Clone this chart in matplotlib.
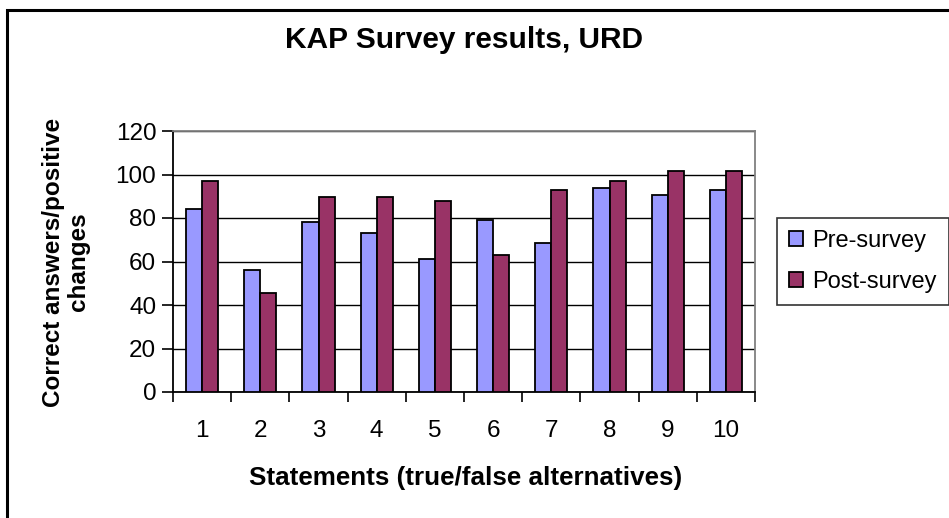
import matplotlib
matplotlib.use("Agg")
import matplotlib.pyplot as plt
import numpy as np
from matplotlib.patches import Rectangle

statements = ["1", "2", "3", "4", "5", "6", "7", "8", "9", "10"]
pre_survey = [84, 56, 78, 73, 61, 79, 68.5, 94, 90.5, 93]
post_survey = [97, 45.5, 89.5, 89.5, 88, 63, 93, 97, 101.5, 101.5]
y_ticks = [0, 20, 40, 60, 80, 100, 120]

plt.rcParams['font.family'] = ['Liberation Sans', 'DejaVu Sans']

fig = plt.figure(figsize=(9.49, 5.18), dpi=100)
fig.patch.set_facecolor('white')
ax = fig.add_axes([173/949, 1-392/518, (755-173)/949, (392-131)/518])

x = np.arange(len(statements))
w = 0.275
ax.bar(x - w/2, pre_survey, w, color='#9999FF', edgecolor='black', linewidth=1.3,
       label='Pre-survey', zorder=3)
ax.bar(x + w/2, post_survey, w, color='#993366', edgecolor='black', linewidth=1.3,
       label='Post-survey', zorder=3)

ax.set_xlim(-0.5, len(statements) - 0.5)
ax.set_ylim(0, 120)
ax.set_yticks(y_ticks)
ax.set_yticklabels([str(v) for v in y_ticks], fontsize=17.5)
ax.yaxis.grid(True, color='black', linewidth=1.0, zorder=0)
ax.set_axisbelow(True)

ax.set_xticks(x)
ax.set_xticklabels(statements, fontsize=17.5)
ax.tick_params(axis='x', length=0, pad=20)
ax.set_xticks(np.arange(-0.5, len(statements) + 0.5, 1), minor=True)
ax.tick_params(axis='x', which='minor', length=7, width=1.2, direction='out', color='black')
ax.tick_params(axis='y', length=8, width=1.2, direction='out', pad=4)

for s in ['left', 'bottom']:
    ax.spines[s].set_color('black')
    ax.spines[s].set_linewidth(1.3)
for s in ['top', 'right']:
    ax.spines[s].set_color('#808080')
    ax.spines[s].set_linewidth(1.3)

fig.text(464/949, 1-40/518, 'KAP Survey results, URD', ha='center', va='center',
         fontsize=21.5, fontweight='bold')
fig.text(466/949, 1-478/518, 'Statements (true/false alternatives)', ha='center', va='center',
         fontsize=18.7, fontweight='bold')
fig.text(66/949, 1-262/518, 'Correct answers/positive\nchanges', ha='center', va='center',
         rotation=90, fontsize=17.5, fontweight='bold', linespacing=1.1)

leg = fig.legend(loc='upper left', bbox_to_anchor=(777/949, 1-218/518), fontsize=17,
                 frameon=True, fancybox=False, edgecolor='black', handlelength=0.6,
                 handleheight=0.6, handletextpad=0.4, borderpad=0.5, labelspacing=0.8,
                 borderaxespad=0)
leg.get_frame().set_linewidth(1.2)

fig.patches.append(Rectangle((7/949, -0.01), 1.0, 1-10/518 + 0.01, transform=fig.transFigure,
                             fill=False, edgecolor='black', linewidth=2.2))

fig.savefig('out.png', dpi=100, facecolor='white')
